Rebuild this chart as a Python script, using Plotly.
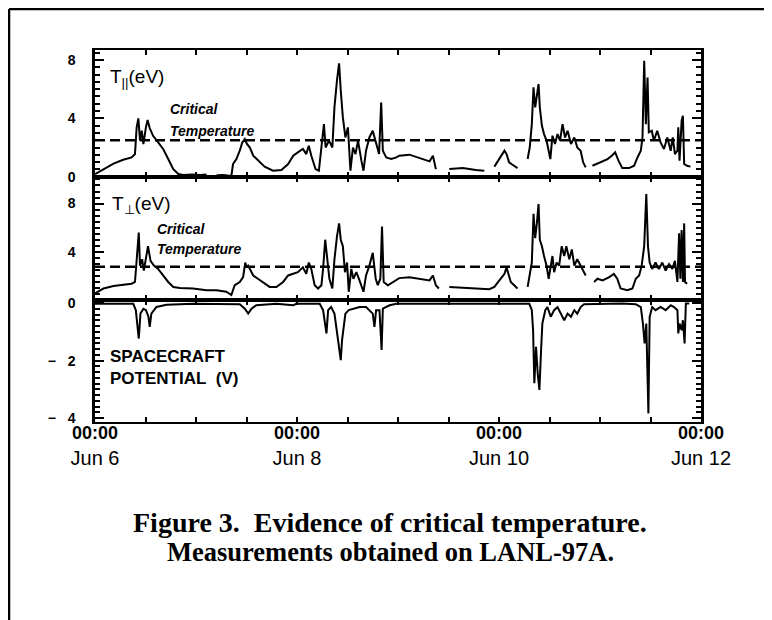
import plotly.graph_objects as go
from plotly.subplots import make_subplots

# ---------------- data (hours after Jun 6 00:00) ----------------
hours_par = [
    0.0, 2.0, 4.4, 6.7, 8.7, 9.5, 9.9, 10.3, 10.7, 11.1,
    11.5, 12.1, 12.5, 13.0, 13.8, 15.0, 16.2, 17.4, 18.6, 19.8,
    21.0, 23.0, 25.0, 26.5, 27.5, 28.9, 30.5, 32.4, 32.8, 33.6,
    34.4, 35.0, 35.6, 36.1, 36.8, 37.6, 38.7, 40.3, 42.3, 44.3,
    45.9, 47.1, 48.2, 49.4, 50.2, 50.8, 51.4, 52.4, 53.2, 54.0,
    54.4, 54.8, 55.6, 56.4, 56.9, 57.5, 58.0, 58.4, 58.9, 59.5,
    60.1, 60.7, 61.3, 61.9, 62.5, 63.3, 63.8, 64.4, 65.2, 66.0,
    66.8, 67.5, 68.0, 68.4, 69.2, 70.4, 71.6, 72.3, 74.7, 77.1,
    79.5, 80.3, 81.0, 82.5, 84.2, 87.4, 90.5, 92.5, 93.6, 94.9,
    96.1, 97.3, 97.8, 98.4, 99.2, 100.4, 101.6, 102.8, 103.3, 103.8,
    104.2, 104.6, 105.0, 105.4, 105.7, 106.2, 106.7, 107.3, 107.8, 108.2,
    108.7, 109.3, 109.9, 110.5, 111.1, 111.7, 112.3, 113.1, 113.9, 114.6,
    115.4, 116.0, 116.6, 117.4, 118.2, 119.4, 120.6, 121.8, 122.8, 123.6,
    124.4, 125.3, 126.9, 128.1, 128.9, 129.7, 130.1, 130.5, 130.9, 131.3,
    131.6, 132.3, 132.8, 133.6, 134.4, 135.2, 136.0, 136.8, 137.3, 137.8,
    138.4, 138.6, 138.9, 139.4, 139.7, 140.0, 140.7, 141.5,
]
t_par = [
    0.18, 0.52, 0.9, 1.16, 1.32, 1.55, 3.38, 4.0, 2.47, 3.15,
    2.24, 3.38, 3.88, 3.33, 2.8, 2.35, 1.9, 1.21, 0.52, 0.18,
    0.12, 0.15, 0.12, 0.15, None, 0.1, 0.12, 0.05, 0.87, 1.21,
    1.78, 2.35, 2.58, 2.24, 2.0, 1.44, 1.1, 0.68, 0.41, 0.46,
    0.87, 1.44, 1.67, 1.9, 1.55, 2.12, 1.44, 0.52, 0.41, 2.47,
    3.6, 2.0, 2.47, 2.0, 4.75, 6.6, 7.76, 5.89, 4.06, 2.69,
    3.38, 0.41, 2.0, 1.55, 2.47, 1.1, 0.41, 1.78, 2.69, 3.15,
    2.24, 1.55, 5.09, 1.78, 1.32, 1.21, 1.32, 1.44, 1.51, 1.28,
    1.05, 1.44, 0.52, None, 0.52, 0.59, 0.46, 0.41, None, 0.69,
    1.21, 1.78, 1.55, 0.98, 0.82, 0.59, None, 1.21, 2.0, 3.6,
    6.12, 4.75, 5.55, 6.35, 4.75, 3.49, 2.92, 2.47, 1.78, 1.21,
    2.81, 2.24, 2.92, 2.47, 3.6, 2.69, 3.15, 2.24, 2.69, 2.0,
    1.78, 0.98, 0.64, None, 0.75, 0.91, 1.05, 1.21, 1.44, 1.67,
    1.1, 0.59, 0.59, 0.75, 1.32, 1.78, 2.69, 7.95, 3.6, 6.8,
    3.04, 3.15, 2.47, 3.15, 2.35, 1.9, 2.69, 1.78, 2.69, 1.55,
    1.78, 3.38, 1.1, 3.84, 4.18, 0.87, 0.75, 0.69,
]

hours_perp = [
    0.0, 2.0, 4.4, 6.7, 8.7, 9.5, 9.9, 10.4, 10.7, 11.2,
    11.6, 12.1, 12.6, 13.2, 14.0, 15.0, 16.2, 17.4, 18.6, 20.2,
    23.3, 26.5, 28.9, 31.2, 32.4, 33.2, 34.4, 35.2, 35.7, 36.0,
    36.4, 36.8, 37.6, 38.7, 39.9, 41.5, 43.1, 44.7, 45.9, 47.1,
    48.2, 49.4, 50.2, 50.8, 51.4, 52.2, 53.0, 53.8, 54.2, 54.7,
    55.2, 55.7, 56.4, 56.9, 57.5, 58.0, 58.4, 58.9, 59.4, 59.9,
    60.3, 60.9, 61.4, 62.1, 62.7, 63.3, 63.8, 64.4, 65.2, 66.0,
    66.7, 67.2, 67.8, 68.2, 68.6, 69.6, 70.8, 72.3, 74.7, 77.1,
    79.5, 80.3, 81.0, 81.7, 82.5, 84.2, 87.4, 90.5, 93.7, 94.9,
    96.1, 97.3, 97.8, 98.3, 98.8, 99.6, 100.4, 101.6, 102.8, 103.3,
    103.8, 104.2, 104.6, 105.0, 105.4, 105.7, 106.2, 106.7, 107.3, 107.8,
    108.2, 108.7, 109.1, 109.7, 110.3, 110.9, 111.5, 112.0, 112.7, 113.3,
    113.9, 114.6, 115.4, 116.0, 116.6, 117.4, 118.6, 119.4, 120.6, 122.2,
    123.3, 124.1, 124.9, 126.5, 127.7, 128.5, 129.3, 129.9, 130.5, 131.0,
    131.4, 131.8, 132.4, 133.2, 134.0, 134.8, 135.6, 136.4, 137.2, 137.8,
    138.4, 138.8, 139.1, 139.4, 139.7, 140.0, 140.2, 140.7,
]
t_perp = [
    0.57, 0.97, 1.18, 1.29, 1.37, 1.51, 3.39, 5.6, 2.86, 3.39,
    2.45, 3.39, 4.47, 3.26, 2.86, 2.59, 2.05, 1.51, 1.1, 1.02,
    0.97, 0.83, 0.83, 0.7, 0.43, 1.24, 1.51, 1.91, 3.12, 2.72,
    2.86, 2.59, 2.05, 1.78, 1.51, 1.1, 1.1, 1.51, 2.05, 2.18,
    2.32, 2.72, 2.18, 3.12, 2.59, 1.24, 0.97, 1.24, 2.59, 5.01,
    3.39, 1.78, 0.97, 3.39, 5.28, 6.36, 5.01, 4.47, 2.32, 3.12,
    0.7, 2.59, 1.78, 2.32, 1.78, 1.24, 0.7, 2.05, 2.86, 3.93,
    1.78, 1.24, 1.78, 6.09, 1.51, 1.24, 1.51, 1.83, 1.91, 1.78,
    1.64, 2.05, 1.24, 0.97, None, 1.1, 1.02, 0.97, 0.91, 1.1,
    1.64, 2.18, 2.72, 2.05, 1.51, 1.24, 0.97, None, 1.1, 2.05,
    3.12, 7.16, 5.14, 6.36, 7.97, 5.01, 4.47, 3.66, 2.86, 1.78,
    2.59, 3.66, 2.32, 3.12, 2.86, 4.47, 3.66, 4.47, 3.39, 4.2,
    2.86, 3.39, 2.86, 2.45, 2.05, None, 1.51, 1.78, 1.64, 1.91,
    2.18, 1.78, 0.97, 0.83, 0.97, 1.78, 2.05, 2.86, 4.47, 8.78,
    4.47, 3.12, 2.59, 3.12, 2.59, 3.12, 2.45, 2.99, 2.59, 3.26,
    1.51, 5.55, 1.78, 5.82, 1.51, 6.36, 1.51, 1.37,
]

hours_sc = [
    0.0, 9.1, 9.7, 10.1, 10.4, 10.8, 11.5, 12.1, 12.7, 13.0,
    13.4, 14.6, 17.0, 23.3, 34.4, 35.6, 36.4, 37.2, 38.3, 43.1,
    47.1, 47.8, 53.4, 54.2, 54.6, 55.0, 55.4, 56.1, 56.9, 57.3,
    57.7, 58.1, 58.4, 58.7, 59.1, 59.5, 60.3, 61.3, 62.9, 64.4,
    66.0, 66.4, 66.8, 67.6, 68.1, 68.4, 70.0, 71.6, 81.8, 95.3,
    103.2, 103.8, 104.1, 104.4, 104.8, 105.2, 105.6, 106.0, 106.3, 107.0,
    107.5, 108.3, 109.1, 109.9, 110.7, 111.5, 112.3, 113.1, 113.9, 114.6,
    115.4, 116.2, 125.3, 128.5, 129.7, 130.2, 130.6, 131.0, 131.5, 131.8,
    132.4, 133.2, 134.4, 135.6, 136.8, 137.6, 138.4, 138.6, 138.9, 139.4,
    139.7, 140.1, 140.4, 141.2,
]
sc_pot = [
    -0.02, -0.02, -0.24, -0.71, -1.23, -0.36, -0.19, -0.24, -0.47, -0.82,
    -0.36, -0.13, -0.05, -0.02, -0.03, -0.19, -0.36, -0.19, -0.07, -0.02,
    -0.07, -0.02, -0.02, -0.24, -0.71, -1.05, -0.24, -0.13, -0.36, -0.82,
    -1.29, -1.63, -1.98, -1.29, -0.71, -0.36, -0.24, -0.19, -0.13, -0.13,
    -0.36, -0.82, -0.24, -0.24, -1.63, -0.19, -0.07, -0.02, -0.02, -0.01,
    -0.02, -0.24, -0.94, -2.79, -1.52, -2.45, -3.02, -1.63, -0.71, -0.24,
    -0.13, -0.47, -0.24, -0.13, -0.36, -0.59, -0.36, -0.47, -0.24, -0.36,
    -0.13, -0.03, -0.01, -0.03, -0.13, -0.71, -1.4, -0.71, -3.84, -0.47,
    -0.13, -0.24, -0.13, -0.24, -0.07, -0.13, -0.24, -1.05, -0.71, -0.94,
    -0.59, -1.4, -0.01, -0.01,
]

crit_par = 2.5
crit_perp = 2.77

x_ticks = [0, 12, 24, 36, 48, 60, 72, 84, 96, 108, 120, 132, 144]
day_ticks = [0, 48, 96, 144]
day_labels = ["Jun 6", "Jun 8", "Jun 10", "Jun 12"]
clock_label = "00:00"

SANS = "Liberation Sans, Arial, sans-serif"
SERIF = "Liberation Serif, Times New Roman, serif"

# ---------------- figure ----------------
fig = make_subplots(rows=3, cols=1, shared_xaxes=True, vertical_spacing=0,
                    row_heights=[0.3414, 0.3306, 0.328])

line_style = dict(color="black", width=2)
fig.add_trace(go.Scatter(x=hours_par, y=t_par, mode="lines", line=line_style,
                         connectgaps=False), row=1, col=1)
fig.add_trace(go.Scatter(x=hours_perp, y=t_perp, mode="lines", line=line_style,
                         connectgaps=False), row=2, col=1)
fig.add_trace(go.Scatter(x=hours_sc, y=sc_pot, mode="lines", line=line_style,
                         connectgaps=False), row=3, col=1)

bottom_text = []
for t in x_ticks:
    if t in day_ticks:
        lbl = day_labels[day_ticks.index(t)]
        bottom_text.append("<span style='font-size:18px'><b>" + clock_label +
                           "</b></span><br>" + lbl)
    else:
        bottom_text.append(" ")

fig.update_xaxes(range=[0, 144], tickmode="array", tickvals=x_ticks,
                 ticks="inside", ticklen=5, tickwidth=2, tickcolor="black",
                 showline=True, linecolor="black", linewidth=2, mirror="ticks")
fig.update_xaxes(showticklabels=False, row=1, col=1)
fig.update_xaxes(showticklabels=False, row=2, col=1)
fig.update_xaxes(ticktext=bottom_text, ticklabelstandoff=-9,
                 tickfont=dict(family=SANS, size=20, color="black"), row=3, col=1)

fig.update_yaxes(ticks="inside", ticklen=9, tickwidth=2, tickcolor="black",
                 showline=True, linecolor="black", linewidth=2.5, mirror="ticks",
                 tickmode="linear", tick0=0, ticklabelstandoff=14,
                 tickfont=dict(family=SANS, size=14, color="black", weight="bold"))
fig.update_yaxes(range=[-0.02, 8.68], dtick=4,
                 minor=dict(ticks="inside", ticklen=5, tickwidth=1.5,
                            tickcolor="black", dtick=0.5),
                 row=1, col=1)
fig.update_yaxes(range=[0.02, 10.2], dtick=4,
                 minor=dict(ticks="inside", ticklen=5, tickwidth=1.5,
                            tickcolor="black", dtick=0.5),
                 row=2, col=1)
fig.update_yaxes(range=[-4.14, 0.115], dtick=2, tickformat="\u00a0=5d",
                 minor=dict(ticks="inside", ticklen=5, tickwidth=1.5,
                            tickcolor="black", dtick=0.2),
                 row=3, col=1)

dash_style = dict(color="black", width=2.5, dash="10px,5px")
fig.add_hline(y=crit_par, line=dash_style, row=1, col=1)
fig.add_hline(y=crit_perp, line=dash_style, row=2, col=1)


def add_text(text, x, y, size, family=SANS, xanchor="left"):
    fig.add_annotation(text=text, x=x, y=y, xref="paper", yref="paper",
                       xanchor=xanchor, yanchor="middle", showarrow=False,
                       font=dict(family=family, size=size, color="black"))


add_text("T<sub>||</sub>(eV)", 0.022, 0.925, 19)
add_text("T<sub>\u22a5</sub>(eV)", 0.024, 0.583, 19)
add_text("<b><i>Critical</i></b>", 0.121, 0.841, 14)
add_text("<b><i>Temperature</i></b>", 0.121, 0.782, 14)
add_text("<b><i>Critical</i></b>", 0.099, 0.519, 14)
add_text("<b><i>Temperature</i></b>", 0.099, 0.465, 14)
add_text("<b>SPACECRAFT</b>", 0.022, 0.175, 17)
add_text("<b>POTENTIAL\u00a0\u00a0(V)</b>", 0.022, 0.118, 17)
add_text("<b>Figure 3.\u00a0 Evidence of critical temperature.</b>", 0.487, -0.269, 28,
         family=SERIF, xanchor="center")
add_text("<b>Measurements obtained on LANL-97A.</b>", 0.487, -0.349, 26.5,
         family=SERIF, xanchor="center")

# outer frame of the scanned page (top and left edges)
fig.add_shape(type="line", xref="paper", yref="paper", x0=-0.1419, x1=1.14,
              y0=1.110, y1=1.110, line=dict(color="black", width=2.5))
fig.add_shape(type="line", xref="paper", yref="paper", x0=-0.1419, x1=-0.1419,
              y0=1.110, y1=-0.54, line=dict(color="black", width=2.5))

# the page body adds an 8px margin, so the figure is 8px smaller and shifted
fig.update_layout(
    width=764, height=612,
    margin=dict(l=87, r=71, t=42, b=198),
    paper_bgcolor="white", plot_bgcolor="white",
    showlegend=False,
)

fig.write_html("out.html")
